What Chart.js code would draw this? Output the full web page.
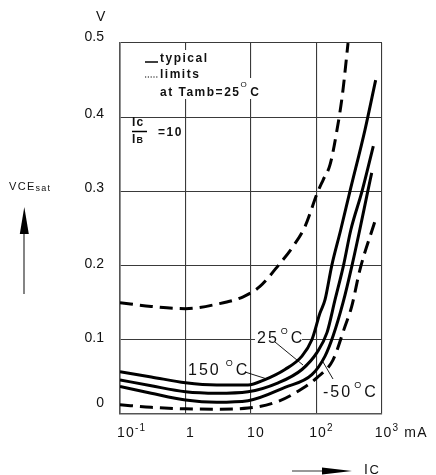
<!DOCTYPE html>
<html>
<head>
<meta charset="utf-8">
<script src="https://cdn.jsdelivr.net/npm/chart.js@4.4.1/dist/chart.umd.min.js"></script>
<style>
html,body{margin:0;padding:0;background:#fff;}
canvas{display:block;}
</style>
</head>
<body>
<canvas id="c" width="436" height="475"></canvas>
<script>
// ---- data ----
const xTicks = [0.1, 1, 10, 100, 1000];
const xTickBase = ['10', '1', '10', '10', '10'];
const xTickSup = ['-1', '', '', '2', '3'];
const xUnit = 'mA';
const yUnit = 'V';
const yTickValues = [0, 0.1, 0.2, 0.3, 0.4, 0.5];
const yTickLabels = ['0', '0.1', '0.2', '0.3', '0.4', '0.5'];
const tempLabels = ['150', '25', '-50'];

const ic150 = [0.1, 0.3, 1, 3, 9, 16, 33, 60, 85, 113, 135, 171, 234, 324, 550, 800];
const v150  = [0.057, 0.050, 0.042, 0.039, 0.039, 0.046, 0.060, 0.078, 0.100, 0.136, 0.154, 0.200, 0.248, 0.300, 0.383, 0.450];

const ic25 = [0.1, 0.3, 1, 3, 9, 26, 60, 102, 145, 192, 258, 334, 495, 737];
const v25  = [0.046, 0.038, 0.030, 0.028, 0.030, 0.042, 0.060, 0.083, 0.110, 0.154, 0.200, 0.248, 0.300, 0.361];

const icM50 = [0.1, 0.3, 1, 3, 9, 33, 85, 135, 179, 254, 348, 457, 606, 696];
const vM50  = [0.037, 0.028, 0.019, 0.016, 0.018, 0.036, 0.053, 0.078, 0.105, 0.150, 0.200, 0.248, 0.300, 0.325];

const icLimLow = [0.1, 0.3, 1, 3, 9, 26, 60, 102, 179, 272, 345, 462, 782];
const vLimLow  = [0.0125, 0.009, 0.007, 0.0065, 0.008, 0.017, 0.034, 0.049, 0.073, 0.118, 0.145, 0.195, 0.26];

const icLimHigh = [0.1, 0.3, 1, 3, 7.6, 13.7, 27.7, 44, 67, 103, 127, 161, 203, 250, 303];
const vLimHigh  = [0.150, 0.145, 0.142, 0.148, 0.158, 0.172, 0.203, 0.226, 0.253, 0.298, 0.316, 0.336, 0.380, 0.432, 0.5];

// ---- helpers ----
const FONT = '"Liberation Sans", Arial, Helvetica, sans-serif';
const pts = (xs, ys) => xs.map((x, i) => ({x: x, y: ys[i]}));

function setFont(ctx, p, sp) {
  ctx.font = (p.bold ? 'bold ' : '') + p.size + 'px ' + FONT;
  ctx.letterSpacing = (p.sp !== undefined ? p.sp : sp) + 'px';
}
function measureParts(ctx, parts, sp) {
  let w = 0;
  for (const p of parts) { setFont(ctx, p, sp); w += ctx.measureText(p.t).width + (p.gap || 0); }
  return w;
}
function drawParts(ctx, x, y, parts, sp) {
  let cx = x;
  ctx.textAlign = 'left';
  ctx.textBaseline = 'middle';
  for (const p of parts) {
    setFont(ctx, p, sp);
    ctx.fillText(p.t, cx, y + (p.dy || 0));
    cx += ctx.measureText(p.t).width + (p.gap || 0);
  }
}
function line(ctx, x1, y1, x2, y2, w) {
  ctx.lineWidth = w; ctx.beginPath(); ctx.moveTo(x1, y1); ctx.lineTo(x2, y2); ctx.stroke();
}

const yLabelShift = {0: 22, 0.1: 4, 0.2: 2, 0.3: 7, 0.4: 7, 0.5: 12};

const deco = {
  id: 'deco',
  beforeDatasetsDraw(chart) {
    const ctx = chart.ctx;
    ctx.save();
    ctx.fillStyle = '#fff';
    // backgrounds behind annotation text
    ctx.fillRect(140, 50, 72, 18);
    ctx.fillRect(140, 68, 65, 12);
    ctx.fillRect(133, 78, 133, 21);
    ctx.fillRect(187, 362, 63, 17);
    ctx.fillRect(255, 331, 47, 16);
    ctx.restore();
  },
  afterDraw(chart) {
    const ctx = chart.ctx;
    const xs = chart.scales.x;
    ctx.save();
    ctx.fillStyle = '#111';
    ctx.strokeStyle = '#111';

    // x tick labels with superscripts
    const baseY = 433;
    xTicks.forEach((v, i) => {
      const parts = [{t: xTickBase[i], size: 14}];
      if (xTickSup[i]) parts.push({t: xTickSup[i], size: 10, dy: -5});
      const w = measureParts(ctx, parts, 1.2);
      const px = xs.getPixelForValue(v);
      const left = i === 0 ? px - 3 : px + 5 - w / 2;
      drawParts(ctx, left, baseY, parts, 1.2);
      if (i === xTicks.length - 1) {
        drawParts(ctx, left + w + 5, baseY, [{t: xUnit, size: 14}], 1.2);
      }
    });

    // y unit
    drawParts(ctx, 96, 17, [{t: yUnit, size: 14}], 0);

    // y axis title + arrow
    drawParts(ctx, 9, 187, [{t: 'VCE', size: 11}, {t: 'sat', size: 9, dy: 1.5}], 1.3);
    ctx.strokeStyle = '#333';
    line(ctx, 24, 294, 24, 232, 1.2);
    ctx.fillStyle = '#000';
    ctx.beginPath(); ctx.moveTo(24.3, 207); ctx.lineTo(19.8, 234); ctx.lineTo(28.8, 234); ctx.closePath(); ctx.fill();

    // x axis title + arrow
    line(ctx, 292, 471, 330, 471, 1.2);
    ctx.beginPath(); ctx.moveTo(352, 471); ctx.lineTo(322, 467.5); ctx.lineTo(322, 474.5); ctx.closePath(); ctx.fill();
    ctx.fillStyle = '#111';
    drawParts(ctx, 364, 470, [{t: 'I', size: 14}, {t: 'C', size: 13}], 1.5);

    // legend block
    ctx.strokeStyle = '#000';
    line(ctx, 145, 62, 158, 62, 1.5);
    drawParts(ctx, 160, 59, [{t: 'typical', size: 12, bold: true}], 1.5);
    ctx.setLineDash([1.2, 1.6]);
    line(ctx, 145, 77, 159, 77, 1);
    ctx.setLineDash([]);
    drawParts(ctx, 160, 75, [{t: 'limits', size: 12, bold: true}], 1.5);
    drawParts(ctx, 160, 93, [{t: 'at Tamb=25', size: 12, bold: true}, {t: 'O', size: 8, dy: -8.5, gap: 2}, {t: 'C', size: 12, bold: true}], 1.5);

    // Ic / IB = 10
    drawParts(ctx, 132, 122.7, [{t: 'Ic', size: 12, bold: true}], 1.2);
    line(ctx, 132, 131.5, 147, 131.5, 1.5);
    drawParts(ctx, 132, 139.7, [{t: 'I', size: 12, bold: true}, {t: 'B', size: 9, bold: true, dy: 1}], 1.2);
    drawParts(ctx, 158, 132.7, [{t: '=10', size: 12, bold: true}], 1.5);

    // temperature labels + leaders
    ctx.fillStyle = '#111';
    drawParts(ctx, 188, 371, [{t: tempLabels[0], size: 16, gap: 5}, {t: 'O', size: 9, dy: -7, gap: 1}, {t: 'C', size: 16}], 2);
    line(ctx, 245, 372, 267, 379, 0.9);
    drawParts(ctx, 257, 338.5, [{t: tempLabels[1], size: 16, gap: 2}, {t: 'O', size: 9, dy: -7, gap: 1}, {t: 'C', size: 16}], 2);
    line(ctx, 275, 342, 303, 365, 0.9);
    drawParts(ctx, 323, 392.5, [{t: tempLabels[2], size: 16, gap: 2}, {t: 'O', size: 9, dy: -7, gap: 1}, {t: 'C', size: 16}], 2);
    line(ctx, 323, 362, 333, 379, 0.9);

    ctx.restore();
  }
};

const solid = (d) => ({data: d, borderColor: '#000', borderWidth: 3, pointRadius: 0, fill: false, cubicInterpolationMode: 'monotone'});
const dashed = (d) => ({data: d, borderColor: '#000', borderWidth: 3, pointRadius: 0, fill: false, cubicInterpolationMode: 'monotone', borderDash: [13, 7]});

new Chart(document.getElementById('c'), {
  type: 'line',
  data: {
    datasets: [
      solid(pts(ic150, v150)),
      solid(pts(ic25, v25)),
      solid(pts(icM50, vM50)),
      dashed(pts(icLimLow, vLimLow)),
      dashed(pts(icLimHigh, vLimHigh))
    ]
  },
  options: {
    responsive: false,
    animation: false,
    devicePixelRatio: 1,
    layout: {padding: {left: 0, right: 54, top: 43, bottom: 0}},
    plugins: {legend: {display: false}, tooltip: {enabled: false}},
    scales: {
      x: {
        type: 'logarithmic', min: 0.1, max: 1000,
        afterBuildTicks: (s) => { s.ticks = xTicks.map(v => ({value: v})); },
        afterFit: (s) => { s.height = 61; },
        ticks: {display: false},
        grid: {color: '#3a3a3a', lineWidth: 1.1, drawTicks: false},
        border: {color: '#555', width: 1.6}
      },
      y: {
        min: 0, max: 0.5,
        afterFit: (s) => { s.width = 120; },
        ticks: {
          stepSize: 0.05,
          padding: 16,
          color: '#111',
          font: (c) => {
            const v = c.tick ? Math.round(c.tick.value * 10) / 10 : 0;
            const lh = yLabelShift[v] !== undefined ? yLabelShift[v] : 2;
            return {family: FONT, size: 14, lineHeight: lh + 'px'};
          },
          callback: (v) => {
            const k = Math.round(v * 100);
            if (k % 10 !== 0) return '';
            const idx = yTickValues.findIndex(t => Math.round(t * 100) === k);
            return idx >= 0 ? [yTickLabels[idx], ''] : '';
          }
        },
        grid: {color: '#3a3a3a', lineWidth: 1.1, drawTicks: false},
        border: {color: '#555', width: 1.6}
      }
    }
  },
  plugins: [deco]
});
</script>
</body>
</html>
